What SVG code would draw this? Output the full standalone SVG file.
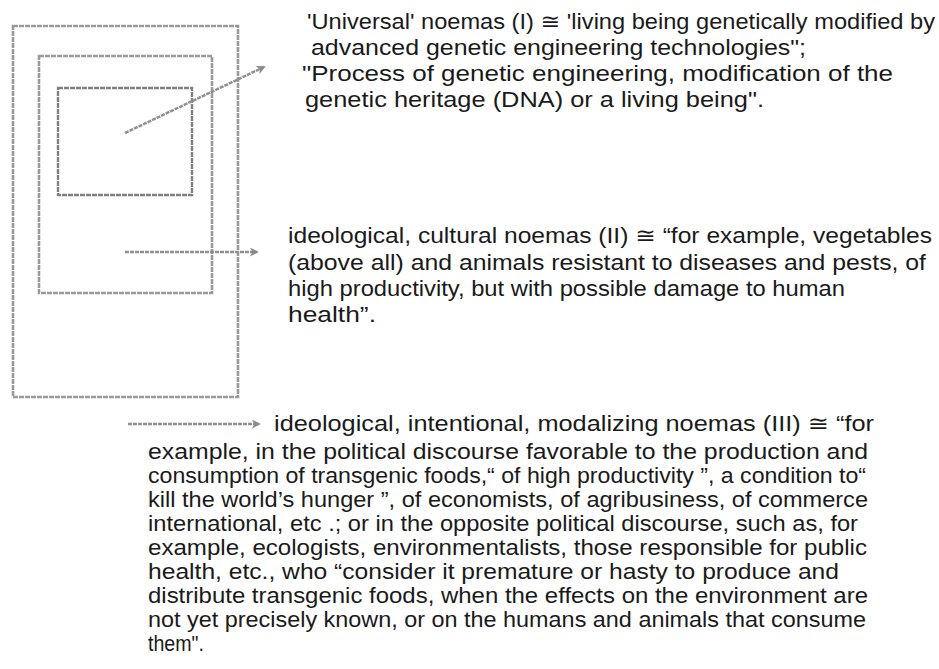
<svg xmlns="http://www.w3.org/2000/svg" width="939" height="669" viewBox="0 0 939 669">
<defs>
<style>
.frame{fill:none;stroke:#9a9a9a;stroke-width:2.6;stroke-dasharray:5 1}
.inner{fill:none;stroke:#808080;stroke-width:2.4;stroke-dasharray:5 1}
.conn{fill:none;stroke:#909090;stroke-width:2.5;stroke-dasharray:4 1}
.t{font-family:"Liberation Sans",Arial,"DejaVu Sans",sans-serif;font-size:22px;fill:#1a1a1a}
</style>
<marker id="ah" viewBox="0 0 10 10" refX="8" refY="5" markerWidth="3.6" markerHeight="3.6" orient="auto" markerUnits="strokeWidth">
<path d="M0,0 L10,5 L0,10 L3,5 z" fill="#8a8a8a"/>
</marker>
</defs>
<rect width="939" height="669" fill="#ffffff"/>
<g id="outer-box"><rect class="frame" x="13" y="26" width="225" height="371"/></g>
<g id="middle-box"><rect class="frame" x="39" y="56" width="173" height="237"/></g>
<g id="inner-box"><rect class="inner" x="58" y="88" width="134" height="107"/></g>
<g id="connectors">
<line class="conn" x1="125" y1="133" x2="264" y2="67" marker-end="url(#ah)"/>
<line class="conn" x1="125" y1="252" x2="257" y2="252" marker-end="url(#ah)"/>
<line class="conn" x1="128" y1="424" x2="259" y2="424" marker-end="url(#ah)"/>
</g>
<g id="noemas-I">
<text class="t" x="307" y="29" textLength="628" lengthAdjust="spacingAndGlyphs">'Universal' noemas (I)  ≅ 'living being genetically modified by</text>
<text class="t" x="311" y="55" textLength="495" lengthAdjust="spacingAndGlyphs">advanced genetic engineering technologies";</text>
<text class="t" x="302" y="81" textLength="591" lengthAdjust="spacingAndGlyphs">"Process of genetic engineering, modification of the</text>
<text class="t" x="305" y="107" textLength="459" lengthAdjust="spacingAndGlyphs">genetic heritage (DNA) or a living being".</text>
</g>
<g id="noemas-II">
<text class="t" x="288" y="243" textLength="644" lengthAdjust="spacingAndGlyphs">ideological, cultural noemas (II)  ≅ “for example, vegetables</text>
<text class="t" x="288" y="270" textLength="638" lengthAdjust="spacingAndGlyphs">(above all) and animals resistant to diseases and pests, of</text>
<text class="t" x="288" y="296" textLength="557" lengthAdjust="spacingAndGlyphs">high productivity, but with possible damage to human</text>
<text class="t" x="288" y="322" textLength="88" lengthAdjust="spacingAndGlyphs">health”.</text>
</g>
<g id="noemas-III">
<text class="t" x="274" y="431" textLength="600" lengthAdjust="spacingAndGlyphs">ideological, intentional, modalizing noemas (III) ≅  “for</text>
<text class="t" x="148" y="459" textLength="720" lengthAdjust="spacingAndGlyphs">example, in the political discourse favorable to the production and</text>
<text class="t" x="148" y="483" textLength="718" lengthAdjust="spacingAndGlyphs">consumption of transgenic foods,“ of high productivity ”, a condition to“</text>
<text class="t" x="148" y="507" textLength="720" lengthAdjust="spacingAndGlyphs">kill the world’s hunger ”, of economists, of agribusiness, of commerce</text>
<text class="t" x="148" y="531" textLength="710" lengthAdjust="spacingAndGlyphs">international, etc .; or in the opposite political discourse, such as, for</text>
<text class="t" x="148" y="555" textLength="719" lengthAdjust="spacingAndGlyphs">example, ecologists, environmentalists, those responsible for public</text>
<text class="t" x="148" y="579" textLength="691" lengthAdjust="spacingAndGlyphs">health, etc., who “consider it premature or hasty to produce and</text>
<text class="t" x="148" y="603" textLength="720" lengthAdjust="spacingAndGlyphs">distribute transgenic foods, when the effects on the environment are</text>
<text class="t" x="148" y="627" textLength="718" lengthAdjust="spacingAndGlyphs">not yet precisely known, or on the humans and animals that consume</text>
<text class="t" x="148" y="651" textLength="56" lengthAdjust="spacingAndGlyphs">them".</text>
</g>
</svg>
